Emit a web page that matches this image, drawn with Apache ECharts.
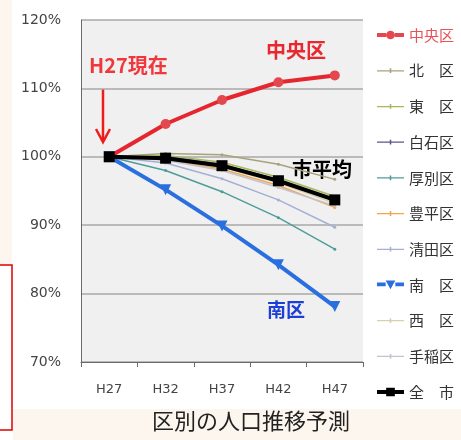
<!DOCTYPE html>
<html>
<head>
<meta charset="utf-8">
<script src="https://cdn.jsdelivr.net/npm/echarts@6/dist/echarts.min.js"></script>
<style>
html, body { margin: 0; padding: 0; background: #ffffff; }
#chart { width: 461px; height: 440px; }
</style>
</head>
<body>
<div id="chart"></div>
<script>
// Projected population by ward, relative to H27 (= 100%)
const years = ['H27', 'H32', 'H37', 'H42', 'H47'];
const yTicks = [70, 80, 90, 100, 110, 120];

const chuo    = [100, 104.8, 108.3, 110.9, 111.9];
const kita    = [100, 100.5, 100.3, 98.9, 96.7];
const higashi = [100, 100.2, 99.2, 97.0, 94.2];
const shiroishi = [100, 100.0, 98.9, 96.6, 93.5];
const atsubetsu = [100, 98.0, 94.9, 91.1, 86.5];
const toyohira = [100, 99.6, 98.2, 95.8, 92.6];
const kiyota  = [100, 99.1, 96.8, 93.7, 89.7];
const minami  = [100, 95.2, 89.9, 84.2, 78.1];
const nishi   = [100, 99.7, 98.5, 96.2, 93.2];
const teine   = [100, 99.5, 98.0, 95.5, 92.8];
const city    = [100, 99.8, 98.7, 96.5, 93.7];

const jp = '"Noto Sans CJK JP", "Noto Sans", sans-serif';

// legend icons: a line with its marker in the middle
const iconThin = 'path://M0,2h28v1.3h-28z M13.2,0h1.6v5h-1.6z';
const iconCircle = 'path://M0,2.5h9.5v4h-9.5z M18.5,2.5h9.5v4h-9.5z M9.5,4.5a4.5,4.5 0 1,1 9,0a4.5,4.5 0 1,1 -9,0z';
const iconTriangle = 'path://M0,2h9v4h-9z M19,2h9v4h-9z M9,0h10l-5,9z';
const iconSquare = 'path://M0,2.5h10v4h-10z M18,2.5h10v4h-10z M9.5,0h9v9h-9z';

function thin(name, data, color) {
  return {
    name, type: 'line', data,
    symbol: 'circle', symbolSize: 3,
    lineStyle: { width: 1.5, color },
    itemStyle: { color },
    z: 2
  };
}

const series = [
  {
    name: '中央区', type: 'line', data: chuo,
    symbol: 'circle', symbolSize: 10,
    lineStyle: { width: 4, color: '#e6262e' },
    itemStyle: { color: '#e2484e' },
    z: 5
  },
  thin('北　区', kita, '#a8a27c'),
  thin('東　区', higashi, '#a6b85a'),
  thin('白石区', shiroishi, '#5e5684'),
  thin('厚別区', atsubetsu, '#4f9c9c'),
  thin('豊平区', toyohira, '#f2a64c'),
  thin('清田区', kiyota, '#a4b0d4'),
  {
    name: '南　区', type: 'line', data: minami,
    symbol: 'triangle', symbolSize: 11, symbolRotate: 180,
    lineStyle: { width: 4, color: '#2a6fe0' },
    itemStyle: { color: '#2a6fe0' },
    z: 5
  },
  thin('西　区', nishi, '#d8d0ac'),
  thin('手稲区', teine, '#c4c2cc'),
  {
    name: '全　市', type: 'line', data: city,
    symbol: 'rect', symbolSize: 11,
    lineStyle: { width: 4, color: '#000000' },
    itemStyle: { color: '#000000' },
    z: 6
  }
];

const legendIcons = {
  '中央区': iconCircle,
  '南　区': iconTriangle,
  '全　市': iconSquare
};

const chart = echarts.init(document.getElementById('chart'), null, { renderer: 'canvas' });

chart.setOption({
  animation: false,
  backgroundColor: '#ffffff',
  grid: { left: 81, right: 98, top: 20, bottom: 78, show: true, backgroundColor: '#f0f0f0', borderWidth: 0 },
  xAxis: {
    type: 'category', data: years, boundaryGap: true,
    axisLine: { lineStyle: { color: '#6a6a6a', width: 1 } },
    axisTick: { show: true, alignWithLabel: false, lineStyle: { color: '#6a6a6a' } },
    axisLabel: { color: '#444', fontFamily: '"DejaVu Sans", sans-serif', fontSize: 13, margin: 21 }
  },
  yAxis: {
    type: 'value', min: yTicks[0], max: yTicks[yTicks.length - 1], interval: 10,
    axisLine: { show: true, lineStyle: { color: '#6a6a6a', width: 1 } },
    axisTick: { show: false },
    splitLine: { lineStyle: { color: '#a8a8a8', width: 1.5 } },
    axisLabel: { color: '#444', fontFamily: '"DejaVu Sans", sans-serif', fontSize: 14, margin: 20, formatter: '{value}%' }
  },
  legend: {
    orient: 'vertical', left: 372, top: 22,
    itemWidth: 27, itemHeight: 12, itemGap: 19.7,
    symbolKeepAspect: true,
    textStyle: { fontFamily: jp, fontSize: 15, lineHeight: 16, color: '#333' },
    data: series.map((s, i) => {
      const item = { name: s.name, icon: legendIcons[s.name] || iconThin };
      if (i === 0) item.textStyle = { color: '#e8505a' };
      return item;
    })
  },
  series,
  graphic: [
    // lower page band and side strip
    { type: 'rect', shape: { x: 13, y: 409, width: 448, height: 31 }, style: { fill: '#fdf6ee' }, silent: true, z: -10 },
    { type: 'rect', shape: { x: 0, y: 0, width: 12, height: 265 }, style: { fill: '#fdf6ee' }, silent: true, z: -10 },
    { type: 'rect', shape: { x: -5, y: 265, width: 17, height: 165 }, style: { fill: 'none', stroke: '#e00000', lineWidth: 1.5 }, silent: true },
    // annotations
    { type: 'text', left: 89, top: 55, style: { text: 'H27現在', font: 'bold 20px ' + jp, fill: '#f0383c' } },
    { type: 'line', shape: { x1: 103, y1: 89, x2: 103, y2: 140 }, style: { stroke: '#ee1c1c', lineWidth: 2.5 } },
    { type: 'polyline', shape: { points: [[96, 129], [103, 142], [110, 129]] }, style: { stroke: '#ee1c1c', lineWidth: 2.5, fill: 'none' } },
    { type: 'text', left: 266, top: 40, style: { text: '中央区', font: 'bold 20px ' + jp, fill: '#e8282e' } },
    { type: 'text', left: 292, top: 159, style: { text: '市平均', font: 'bold 20px ' + jp, fill: '#000000' } },
    { type: 'text', left: 267, top: 300, style: { text: '南区', font: 'bold 19px ' + jp, fill: '#1d3fd6' } },
    { type: 'text', left: 152, top: 410, style: { text: '区別の人口推移予測', font: '22px ' + jp, fill: '#222' } }
  ]
});
</script>
</body>
</html>
